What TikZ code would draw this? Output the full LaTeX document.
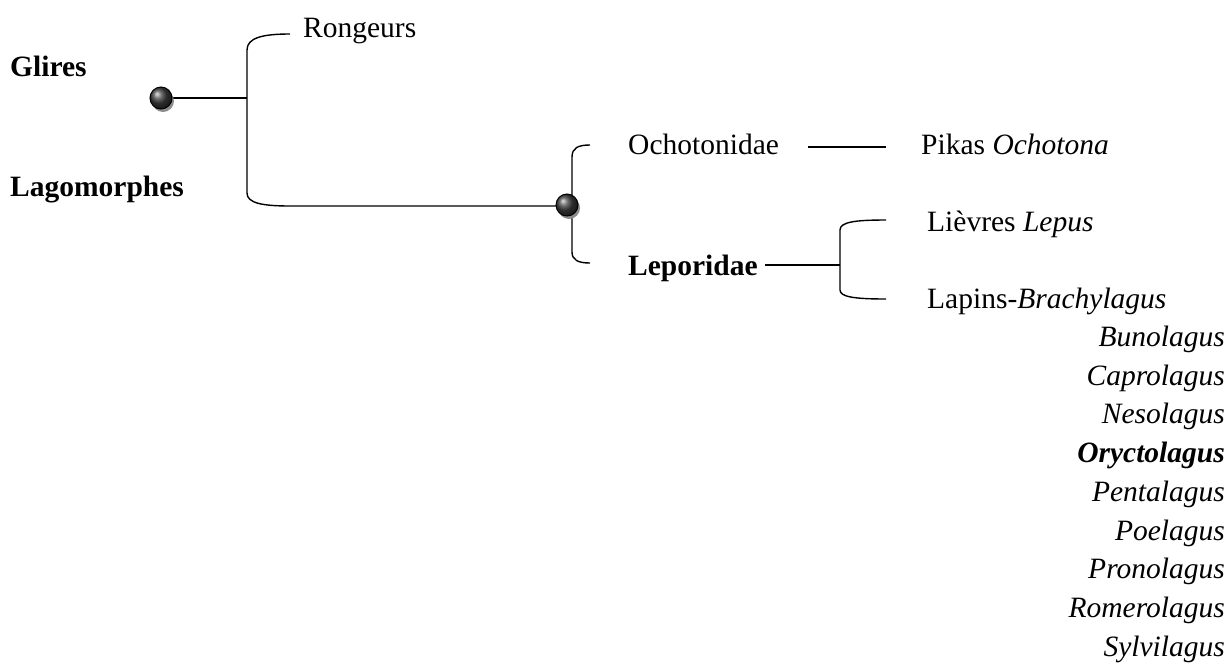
\documentclass[tikz,border=0pt]{standalone}
\usepackage{fontspec}
\setmainfont{Liberation Serif}
\usetikzlibrary{shadows}
\pgfdeclarelayer{bg}
\pgfsetlayers{bg,main}
\begin{document}
\begin{tikzpicture}[x=1pt,y=-1pt,
  lbl/.style={inner sep=0pt, font=\fontsize{29.5}{35}\selectfont},
  lw/.style={lbl, anchor=base west},
  le/.style={lbl, anchor=base east, font=\fontsize{29.5}{35}\selectfont\itshape},
  dot/.style={circle, draw=black, line width=1pt, minimum size=22pt, inner sep=0pt,
    ball color=black!75, drop shadow={shadow xshift=2pt, shadow yshift=-3pt, fill=black!45, opacity=1}},
  br/.style={line width=1.4pt}]
\useasboundingbox (0,0) rectangle (1231,662);
% labels
\node[lw, font=\fontsize{29.5}{35}\selectfont\bfseries] (glires) at (10,76) {Glires};
\node[lw, font=\fontsize{29.5}{35}\selectfont\bfseries] (lago) at (10,196) {Lagomorphes};
\node[lw] (rong) at (303,37) {Rongeurs};
\node[lw] (ocho) at (628,154) {Ochotonidae};
\node[lw] (pikas) at (921,154) {Pikas \textit{Ochotona}};
\node[lw, font=\fontsize{29.5}{35}\selectfont\bfseries] (lepo) at (628,275) {Leporidae};
\node[lw] (liev) at (927,231) {Lièvres \textit{Lepus}};
\node[lw] (lap) at (927,308) {Lapins-\textit{Brachylagus}};
\node[le] (g1) at (1225,346.5) {Bunolagus};
\node[le] (g2) at (1225,385.2) {Caprolagus};
\node[le] (g3) at (1225,423.9) {Nesolagus};
\node[le, font=\fontsize{29.5}{35}\selectfont\bfseries\itshape] (g4) at (1225,462.6) {Oryctolagus};
\node[le] (g5) at (1225,501.3) {Pentalagus};
\node[le] (g6) at (1225,540) {Poelagus};
\node[le] (g7) at (1225,578.7) {Pronolagus};
\node[le] (g8) at (1225,617.4) {Romerolagus};
\node[le] (g9) at (1225,656.1) {Sylvilagus};
% dots
\node[dot] (d1) at (161,98) {};
\node[dot] (d2) at (567,205) {};
% coordinates
\coordinate (j1) at (247,98);
\coordinate (r1) at (290,34);
\coordinate (j2) at (840,265);
\coordinate (l1) at (886,220);
\coordinate (l2) at (886,299);
\coordinate (o1) at (808,147);
\coordinate (o2) at (886,147);
\coordinate (e1) at (765,265);
\coordinate (b2t) at (590,145);
\coordinate (b2b) at (590,263);
% connectors
\begin{pgfonlayer}{bg}
\draw[br] (r1) .. controls (262,34) and (247,38) .. (247,50) -- (247,193)
  .. controls (247,203) and (262,206) .. (290,206) -- (d2.center |- 0,206);
\draw[br] (d1.center) -- (j1);
\draw[br] (b2t) .. controls (578,145) and (572,148) .. (572,157) -- (572,252)
  .. controls (572,260) and (578,263) .. (b2b);
\draw[br] (o1) -- (o2);
\draw[br] (e1) -- (j2);
\draw[br] (l1) .. controls (855,220) and (840,222) .. (840,230) -- (840,290)
  .. controls (840,297) and (855,299) .. (l2);
\end{pgfonlayer}
\end{tikzpicture}
\end{document}
